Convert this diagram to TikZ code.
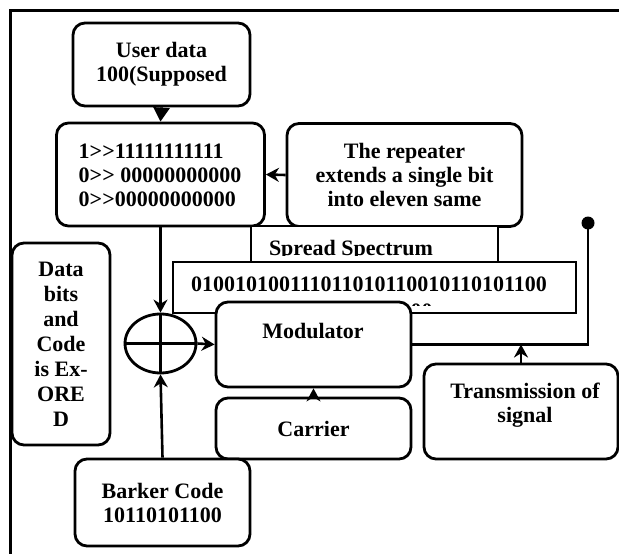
\documentclass[tikz,border=0pt]{standalone}
\usepackage{fontspec}
\setmainfont{Liberation Serif}
\usetikzlibrary{positioning, arrows.meta, shapes.geometric}
\newcommand{\dblgt}{>\kern0pt>}

\begin{document}
\begin{tikzpicture}[x=1pt, y=-1pt,
    txt/.style={font=\bfseries\fontsize{22}{24}\selectfont, align=center, inner sep=0pt},
    box/.style={txt, draw, line width=2.8pt, rounded corners=12pt, fill=white},
    sqbox/.style={draw, line width=2.8pt, fill=white, inner sep=0pt},
    flow/.style={-{Stealth[length=13pt, width=14pt]}, line width=2.6pt}]
    \useasboundingbox (0,0) rectangle (619,554);

    % Draw frame
    \draw[line width=3pt] (10,554) -- (10,10) -- (619,10);

    % Draw upper boxes
    \node[box, minimum width=177pt, minimum height=83pt] (user) at (161.5,64.5) {User data\\100(Supposed};
    \node[box, minimum width=208pt, minimum height=103pt] (rep) at (160.5,174.5) {};
    \node[txt, align=left] (reptext) at (160,175) {1\dblgt11111111111\\0\dblgt{} 00000000000\\0\dblgt00000000000};
    \node[box, minimum width=235pt, minimum height=103pt] (repeater) at (404.5,175) {The repeater\\extends a single bit\\into eleven same};

    % Draw spread spectrum boxes
    \node[sqbox, minimum width=247pt, minimum height=37pt] (spread) at (374.5,244.5) {};
    \begin{scope}
      \clip (251,226) rectangle (498,255);
      \node[txt] (spreadtext) at (351,250) {Spread Spectrum};
    \end{scope}
    \node[sqbox, minimum width=403pt, minimum height=51pt] (bits) at (374.5,287.5) {};
    \node[txt] (bitstext) at (369,284) {010010100111011010110010110101100};
    \begin{scope}
      \clip (173,262) rectangle (576,305);
      \node[txt] (bitsrest) at (416,311) {100};
    \end{scope}

    % Draw lower boxes
    \node[box, minimum width=195pt, minimum height=85pt] (mod) at (313.5,344.5) {};
    \node[txt] (modtext) at (313,331) {Modulator};
    \node[box, minimum width=195pt, minimum height=61pt] (carrier) at (313.5,428.5) {Carrier};
    \node[box, minimum width=194pt, minimum height=95pt] (trans) at (521,411.5) {};
    \node[txt] (transtext) at (525,405) {Transmission of\\signal};
    \node[box, minimum width=175pt, minimum height=87pt] (barker) at (162.5,502.5) {Barker Code\\10110101100};
    \node[box, minimum width=98pt, minimum height=202pt, font=\bfseries\fontsize{22}{25}\selectfont] (data) at (61,344) {Data\\bits\\and\\Code\\is Ex-\\ORE\\D};

    % Draw XOR
    \node[draw, ellipse, line width=2.8pt, minimum width=71pt, minimum height=59pt, inner sep=0pt] (xor) at (160.5,343.5) {};
    \draw[line width=2.6pt] (xor.north) -- (xor.south) (xor.west) -- (xor.east);

    % Draw connectors
    \draw[line width=2.6pt, -{Triangle[length=14pt, width=16pt]}] (user.south) -- (rep.north);
    \draw[flow] (repeater.west) -- (rep.east);
    \draw[flow] (rep.south) -- (xor.north);
    \draw[flow] (barker.north) -- (xor.south);
    \draw[flow] (xor.east) -- (mod.west);
    \draw[flow] (carrier.north) -- (mod.south);

    % Draw output line
    \coordinate (antenna) at (588,223);
    \draw[line width=2.6pt] (mod.east) -| (antenna);
    \fill (antenna) circle (6.5pt);
    \draw[flow] (trans.north) -- (trans.north |- mod.east);
\end{tikzpicture}
\end{document}
